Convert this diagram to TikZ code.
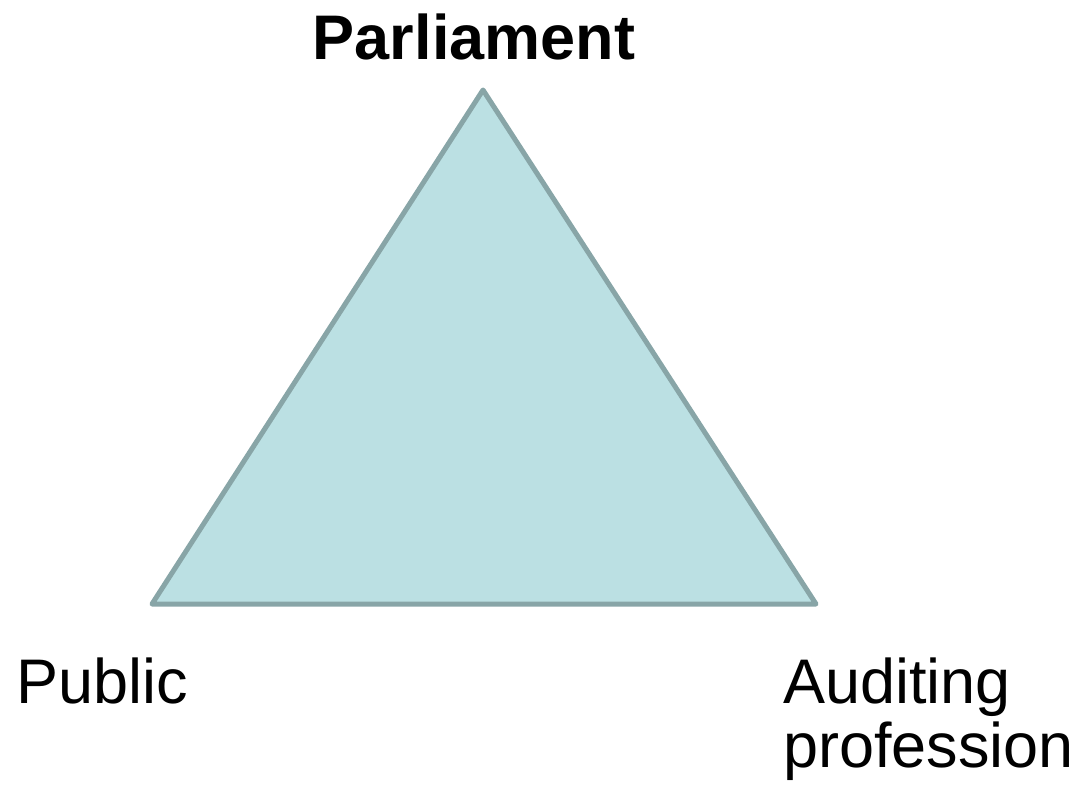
\documentclass[tikz,border=0pt]{standalone}
\usepackage{fontspec}
\setmainfont{Liberation Sans}
\begin{document}
\begin{tikzpicture}[x=1pt,y=-1pt,
  label/.style={inner sep=0pt,font=\fontsize{63}{64}\selectfont,align=left},
  face/.style={fill=triFill,draw=triEdge,line width=5pt,line join=round}]
  \definecolor{triFill}{HTML}{BBE0E3}
  \definecolor{triEdge}{HTML}{88A5A7}
  \useasboundingbox (0,0) rectangle (1083,789);
  % corners of the triangle
  \coordinate (top) at (483,90);
  \coordinate (left) at (152,604);
  \coordinate (right) at (816,604);
  \filldraw[face] (top) -- (left) -- (right) -- cycle;
  % labels at the corners (base anchor of a two-line node is its last line)
  \node[label,font=\fontsize{63}{64}\selectfont\bfseries,anchor=base] (parl) at (474,60) {Parliament};
  \node[label,anchor=base west] (pub) at (16,703) {Public};
  \node[label,anchor=base west] (aud) at (783,767) {Auditing\\profession};
\end{tikzpicture}
\end{document}
